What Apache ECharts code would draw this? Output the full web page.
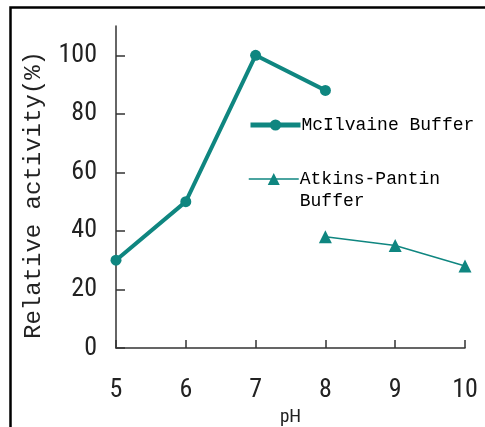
<!DOCTYPE html>
<html><head><meta charset="utf-8">
<script src="https://cdn.jsdelivr.net/npm/echarts@6/dist/echarts.min.js"></script>
<style>html,body{margin:0;padding:0;background:#fff}#c{width:485px;height:427px}</style>
</head><body><div id="c"></div>
<script>
const phValues = [5, 6, 7, 8, 9, 10];
const mcilvainePH = [5, 6, 7, 8];
const mcilvaineActivity = [30, 50, 100, 88];
const atkinsPH = [8, 9, 10];
const atkinsActivity = [38, 35, 28];
const yTicks = [0, 20, 40, 60, 80, 100];
const seriesNames = ['McIlvaine Buffer', 'Atkins-Pantin Buffer'];

const teal = '#0f8680';
const numFont = '"Roboto Condensed", "Liberation Sans Narrow", "Roboto", sans-serif';
const monoFont = '"Liberation Mono", "DejaVu Sans Mono", monospace';

const chart = echarts.init(document.getElementById('c'));
chart.setOption({
  animation: false,
  backgroundColor: '#fff',
  graphic: [{
    type: 'rect', silent: true,
    shape: { x: 10.5, y: 7.5, width: 600, height: 600 },
    style: { fill: 'none', stroke: '#000', lineWidth: 2.5 }
  }],
  grid: { left: 116, right: 20, top: 26, bottom: 79, containLabel: false, outerBoundsMode: 'none' },
  xAxis: {
    type: 'value', min: 5, max: 10, interval: 1,
    name: 'pH', nameLocation: 'middle', nameGap: 40,
    nameTextStyle: { fontFamily: numFont, fontSize: 19, color: '#222' },
    axisLine: { lineStyle: { color: '#333', width: 1.5 } },
    axisTick: { inside: true, length: 8, lineStyle: { color: '#333', width: 1.5 }, customValues: phValues },
    axisLabel: { margin: 29, fontFamily: numFont, fontSize: 26, color: '#222', customValues: phValues },
    splitLine: { show: false }
  },
  yAxis: {
    type: 'value', min: 0, max: 110, interval: 20,
    name: 'Relative activity(%)', nameLocation: 'middle', nameGap: 70, nameRotate: 90,
    nameTextStyle: { fontFamily: monoFont, fontSize: 24, color: '#222', padding: [0, 16, 0, 0] },
    axisLine: { show: true, lineStyle: { color: '#333', width: 1.5 } },
    axisTick: { show: true, inside: true, length: 9, lineStyle: { color: '#333', width: 1.5 }, customValues: yTicks },
    axisLabel: { margin: 19, fontFamily: numFont, fontSize: 26, color: '#222', customValues: yTicks },
    splitLine: { show: false }
  },
  legend: [{
    data: [seriesNames[0]],
    left: 243, top: 109, orient: 'vertical',
    itemWidth: 50, itemHeight: 14, itemGap: 0,
    lineStyle: { width: 5 },
    textStyle: { fontFamily: monoFont, fontSize: 18, lineHeight: 22, color: '#000', padding: [0, 0, 0, -4] }
  }, {
    data: [seriesNames[1]],
    left: 243, top: 141, orient: 'vertical',
    itemWidth: 50, itemHeight: 15, itemGap: 0,
    lineStyle: { width: 1.5 },
    formatter: () => ' \nAtkins-Pantin\nBuffer',
    textStyle: { fontFamily: monoFont, fontSize: 18, lineHeight: 22, color: '#000', padding: [0, 0, 0, -4] }
  }],
  series: [{
    name: seriesNames[0], type: 'line',
    data: mcilvainePH.map((x, i) => [x, mcilvaineActivity[i]]),
    symbol: 'circle', symbolSize: 11,
    lineStyle: { color: teal, width: 4 },
    itemStyle: { color: teal }
  }, {
    name: seriesNames[1], type: 'line',
    data: atkinsPH.map((x, i) => [x, atkinsActivity[i]]),
    symbol: 'triangle', symbolSize: 13,
    lineStyle: { color: teal, width: 1.5 },
    itemStyle: { color: teal }
  }]
});
</script></body></html>
